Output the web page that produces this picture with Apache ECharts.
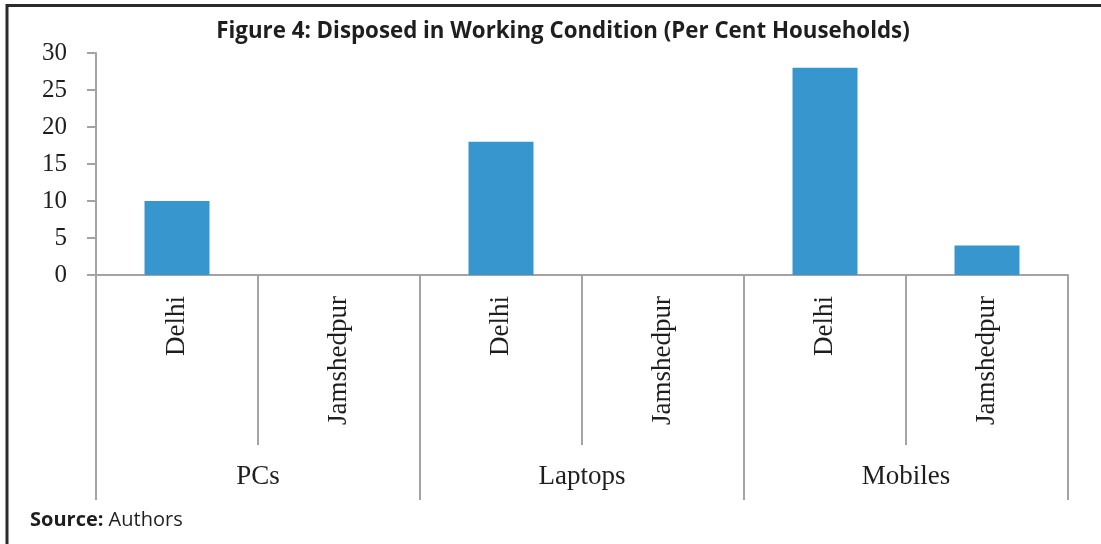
<!DOCTYPE html>
<html>
<head>
<meta charset="utf-8">
<title>Disposed in Working Condition</title>
<script src="https://cdn.jsdelivr.net/npm/echarts@6/dist/echarts.min.js"></script>
<style>
  html, body { margin: 0; padding: 0; background: #fff; }
  #chart { width: 1101px; height: 544px; }
</style>
</head>
<body>
<div id="chart"></div>
<script>
// Cities shown under each device group
const cities = ['Delhi', 'Jamshedpur', 'Delhi', 'Jamshedpur', 'Delhi', 'Jamshedpur'];
// Device groups spanning two cities each
const devices = ['PCs', 'Laptops', 'Mobiles'];
// Per cent of households that disposed of the device in working condition
const perCent = [10, 0, 18, 0, 28, 4];
// Value axis ticks
const yTicks = [0, 5, 10, 15, 20, 25, 30];

const axisGray = '#a3a3a6';
const serif = '"Liberation Serif", "DejaVu Serif", serif';
const sans = '"Open Sans", "Noto Sans", sans-serif';

const chart = echarts.init(document.getElementById('chart'), null, { renderer: 'canvas' });

chart.setOption({
  animation: false,
  backgroundColor: '#ffffff',
  title: {
    text: 'Figure 4: Disposed in Working Condition (Per Cent Households)',
    left: 558,
    textAlign: 'center',
    top: 16,
    textStyle: { fontFamily: sans, fontWeight: 'bold', fontSize: 22.3, color: '#1e1e1e' }
  },
  grid: { left: 96, right: 33, top: 53, bottom: 269, containLabel: false },
  xAxis: [
    {
      type: 'category',
      data: cities,
      position: 'bottom',
      boundaryGap: true,
      axisLine: { show: true, lineStyle: { color: axisGray, width: 2 } },
      axisTick: { show: true, interval: 0, length: 170, lineStyle: { color: axisGray, width: 2 } },
      axisLabel: {
        interval: 0, rotate: 90, margin: 21,
        fontFamily: serif, fontSize: 27, color: '#1e1e1e'
      }
    },
    {
      type: 'category',
      data: devices,
      position: 'bottom',
      boundaryGap: true,
      axisLine: { show: false },
      axisTick: { show: true, interval: 0, length: 225, lineStyle: { color: axisGray, width: 2 } },
      axisLabel: {
        interval: 0, margin: 188,
        fontFamily: serif, fontSize: 27, color: '#1e1e1e'
      }
    }
  ],
  yAxis: {
    type: 'value',
    min: yTicks[0],
    max: yTicks[yTicks.length - 1],
    interval: yTicks[1] - yTicks[0],
    axisLine: { show: true, lineStyle: { color: axisGray, width: 2 } },
    axisTick: { show: true, length: 9, lineStyle: { color: axisGray, width: 2 } },
    splitLine: { show: false },
    axisLabel: {
      margin: 29,
      fontFamily: serif, fontSize: 25, color: '#1e1e1e'
    }
  },
  series: [
    {
      type: 'bar',
      xAxisIndex: 0,
      data: perCent,
      barWidth: 65,
      itemStyle: { color: '#3796cd' }
    }
  ],
  graphic: [
    {
      type: 'line', silent: true,
      shape: { x1: 6, y1: 5.5, x2: 1101, y2: 5.5 },
      style: { stroke: '#2a2a2a', lineWidth: 3 }
    },
    {
      type: 'line', silent: true,
      shape: { x1: 7, y1: 4, x2: 7, y2: 544 },
      style: { stroke: '#2a2a2a', lineWidth: 3 }
    },
    {
      type: 'text', silent: true,
      left: 30, top: 510,
      style: {
        text: '{b|Source: }{r|Authors}',
        rich: {
          b: { fontFamily: sans, fontWeight: 'bold', fontSize: 20, fill: '#1e1e1e' },
          r: { fontFamily: sans, fontSize: 20, fill: '#1e1e1e' }
        }
      }
    }
  ]
});
</script>
</body>
</html>
